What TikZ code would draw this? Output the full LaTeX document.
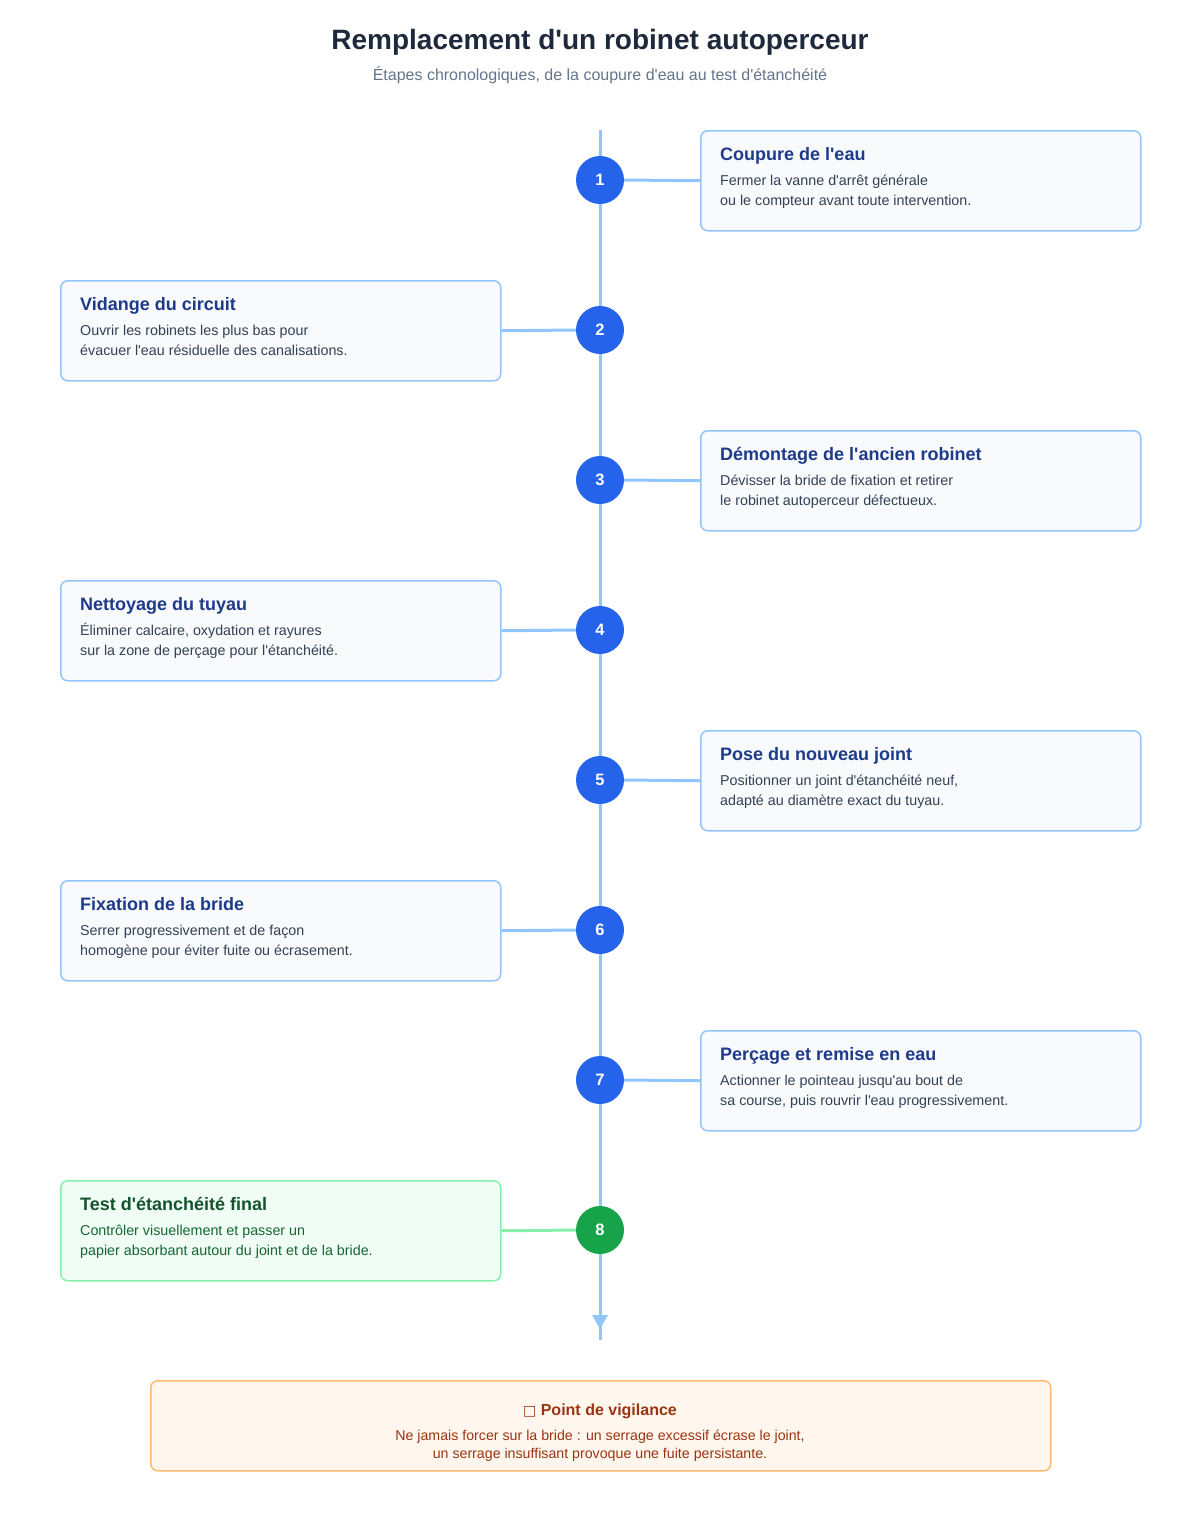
\documentclass[tikz,border=0pt]{standalone}
\usepackage{fontspec}
\setmainfont{Liberation Sans}[Ligatures=TeXOff]
\newfontfamily\symfont{DejaVu Sans}
\definecolor{linec}{HTML}{93C5FD}
\definecolor{circb}{HTML}{2563EB}
\definecolor{circg}{HTML}{16A34A}
\definecolor{boxfill}{HTML}{F8FAFC}
\definecolor{ttlblue}{HTML}{1E3A8A}
\definecolor{bodyc}{HTML}{334155}
\definecolor{gfill}{HTML}{F0FDF4}
\definecolor{gline}{HTML}{86EFAC}
\definecolor{gttl}{HTML}{14532D}
\definecolor{gbody}{HTML}{166534}
\definecolor{ofill}{HTML}{FFF7ED}
\definecolor{oline}{HTML}{FDBA74}
\definecolor{otext}{HTML}{9A3412}
\definecolor{mainttl}{HTML}{1E293B}
\definecolor{subc}{HTML}{64748B}
\tikzset{
  stepcard/.style={draw=linec, line width=1.5pt, fill=boxfill, rounded corners=7pt},
  greencard/.style={draw=gline, line width=1.5pt, fill=gfill, rounded corners=7pt},
  stepcirc/.style={circle, fill=circb, minimum size=48pt, inner sep=0pt, text=white, font=\fontsize{16.5}{18}\selectfont\bfseries},
  greencirc/.style={stepcirc, fill=circg},
  link/.style={draw=linec, line width=3pt},
  glink/.style={draw=gline, line width=3pt},
  cardttl/.style={anchor=base west, inner sep=0pt, text=ttlblue, font=\fontsize{18}{20}\selectfont\bfseries},
  cardbody/.style={anchor=base west, inner sep=0pt, text=bodyc, font=\fontsize{14.3}{16}\selectfont},
}
\begin{document}
\begin{tikzpicture}[x=1pt,y=-1pt]
\useasboundingbox (0,0) rectangle (1200,1520);
\node[anchor=base, inner sep=0pt, text=mainttl, font=\fontsize{28}{32}\selectfont\bfseries] (title) at (600,50) {Remplacement d'un robinet autoperceur};
\node[anchor=base, inner sep=0pt, text=subc, font=\fontsize{16}{18}\selectfont] (subtitle) at (600,81) {Étapes chronologiques, de la coupure d'eau au test d'étanchéité};
% timeline
\coordinate (ltop) at (600,130);
\coordinate (lbot) at (600,1340);
\draw[draw=linec, line width=3pt] (ltop) -- (lbot);
\fill[linec] (592,1315) -- (608,1315) -- (600,1329) -- cycle;
% step boxes
\foreach \k/\X/\ttl/\la/\lb in {
 1/700/{Coupure de l'eau}/{Fermer la vanne d'arrêt générale}/{ou le compteur avant toute intervention.},
 2/60/{Vidange du circuit}/{Ouvrir les robinets les plus bas pour}/{évacuer l'eau résiduelle des canalisations.},
 3/700/{Démontage de l'ancien robinet}/{Dévisser la bride de fixation et retirer}/{le robinet autoperceur défectueux.},
 4/60/{Nettoyage du tuyau}/{Éliminer calcaire, oxydation et rayures}/{sur la zone de perçage pour l'étanchéité.},
 5/700/{Pose du nouveau joint}/{Positionner un joint d'étanchéité neuf,}/{adapté au diamètre exact du tuyau.},
 6/60/{Fixation de la bride}/{Serrer progressivement et de façon}/{homogène pour éviter fuite ou écrasement.},
 7/700/{Perçage et remise en eau}/{Actionner le pointeau jusqu'au bout de}/{sa course, puis rouvrir l'eau progressivement.}}
{
  \pgfmathsetmacro{\T}{130+150*(\k-1)}
  \node[stepcard, anchor=north west, minimum width=440pt, minimum height=100pt, inner sep=0pt] (card\k) at (\X,\T) {};
  \node[stepcirc] (c\k) at (600,\T+50) {\k};
  \node[cardttl] (t\k) at (\X+20,\T+30) {\ttl};
  \node[cardbody] (a\k) at (\X+20,\T+55) {\la};
  \node[cardbody] (b\k) at (\X+20,\T+75) {\lb};
}
\foreach \k in {1,3,5,7} {\draw[link] (c\k.east) -- (card\k.west);}
\foreach \k in {2,4,6} {\draw[link] (c\k.west) -- (card\k.east);}
% step 8
\node[greencard, anchor=north west, minimum width=440pt, minimum height=100pt, inner sep=0pt] (card8) at (60,1180) {};
\node[greencirc] (c8) at (600,1230) {8};
\draw[glink] (card8.east) -- (c8.west);
\node[cardttl, text=gttl] (t8) at (80,1210) {Test d'étanchéité final};
\node[cardbody, text=gbody] (a8) at (80,1235) {Contrôler visuellement et passer un};
\node[cardbody, text=gbody] (b8) at (80,1255) {papier absorbant autour du joint et de la bride.};
% warning
\node[draw=oline, line width=1.5pt, fill=ofill, rounded corners=7pt, anchor=north west, minimum width=900pt, minimum height=90pt, inner sep=0pt] (warn) at (150,1380) {};
\node[anchor=base, inner sep=0pt, text=otext, font=\fontsize{16}{18}\selectfont\bfseries] (wt) at (600,1415) {{\symfont\mdseries\fontsize{14}{16}\selectfont □} Point de vigilance};
\node[anchor=base, inner sep=0pt, text=otext, font=\fontsize{14.2}{16}\selectfont] (wa) at (600,1440) {Ne jamais forcer sur la bride : un serrage excessif écrase le joint,};
\node[anchor=base, inner sep=0pt, text=otext, font=\fontsize{14.2}{16}\selectfont] (wb) at (600,1458) {un serrage insuffisant provoque une fuite persistante.};
\end{tikzpicture}
\end{document}
